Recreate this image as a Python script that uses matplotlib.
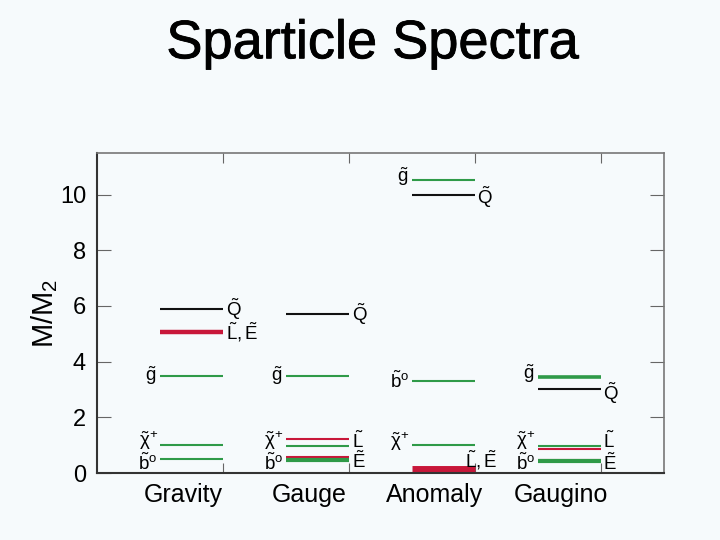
import matplotlib.pyplot as plt
import matplotlib.patheffects as pe

plt.rcParams['font.family'] = ['Liberation Sans', 'DejaVu Sans']
plt.rcParams['mathtext.fontset'] = 'custom'
plt.rcParams['mathtext.rm'] = 'Liberation Sans'
plt.rcParams['mathtext.it'] = 'Liberation Sans'

BG = '#f6fafc'
GREEN = '#2f9a48'
RED = '#c8173a'
BLACK = '#111111'

schemes = ['Gravity', 'Gauge', 'Anomaly', 'Gaugino']

# mass levels (M/M2) per scheme
gravity_names = ['Q', 'L,E', 'g', 'chi+', 'b0']
gravity_masses = [5.9, 5.05, 3.5, 1.0, 0.5]

gauge_names = ['Q', 'g', 'L', 'chi+', 'E', 'b0']
gauge_masses = [5.7, 3.5, 1.21, 0.98, 0.58, 0.46]

anomaly_names = ['g', 'Q', 'b0', 'chi+', 'L,E']
anomaly_masses = [10.53, 10.0, 3.3, 1.0, 0.15]

gaugino_names = ['g', 'Q', 'chi+', 'L', 'E', 'b0']
gaugino_masses = [3.45, 3.03, 0.98, 0.86, 0.47, 0.43]

spectra = [
    (gravity_names, gravity_masses),
    (gauge_names, gauge_masses),
    (anomaly_names, anomaly_masses),
    (gaugino_names, gaugino_masses),
]

labels = {
    'Q': r'$\tilde{\mathrm{Q}}$',
    'L,E': r'$\tilde{\mathrm{L}},\tilde{\mathrm{E}}$',
    'L': r'$\tilde{\mathrm{L}}$',
    'E': r'$\tilde{\mathrm{E}}$',
    'g': r'$\tilde{\mathrm{g}}$',
    'chi+': r'$\tilde{\chi}^{+}$',
    'b0': r'$\tilde{\mathrm{b}}^{\mathrm{o}}$',
}
colors = {'Q': BLACK, 'L,E': RED, 'L': RED, 'E': RED,
          'g': GREEN, 'chi+': GREEN, 'b0': GREEN}
left_side = {'g', 'chi+', 'b0'}

# thicker lines where levels overlap in the original
thick = {('Gravity', 'L,E'): 3.2, ('Gauge', 'b0'): 3.0, ('Anomaly', 'L,E'): 5,
         ('Gaugino', 'g'): 2.6, ('Gaugino', 'b0'): 3.0}
label_nudge = {('Anomaly', 'L,E'): (-0.1, 0.32), ('Gauge', 'E'): (0, -0.15),
               ('Gauge', 'L'): (0, -0.05), ('Gaugino', 'Q'): (0, -0.15),
               ('Gaugino', 'g'): (0, 0.12), ('Gaugino', 'E'): (0, -0.12),
               ('Gaugino', 'L'): (0, 0.28), ('Anomaly', 'Q'): (0, -0.1),
               ('Anomaly', 'g'): (0, 0.12),
               ('Gravity', 'chi+'): (0, 0.15), ('Gauge', 'chi+'): (0, 0.2),
               ('Anomaly', 'chi+'): (0, 0.12), ('Gaugino', 'chi+'): (0, 0.2),
               ('Gravity', 'b0'): (0, -0.15), ('Gauge', 'b0'): (0, -0.12),
               ('Gaugino', 'b0'): (0, -0.08)}

fig = plt.figure(figsize=(7.2, 5.4), dpi=100, facecolor=BG)
ax = fig.add_axes([0.135, 0.124, 0.787, 0.593], facecolor=BG)

for i, (scheme, (names, masses)) in enumerate(zip(schemes, spectra)):
    x0, x1 = i + 0.5, i + 1.0
    for name, m in zip(names, masses):
        lw = thick.get((scheme, name), 1.5)
        ax.plot([x0, x1], [m, m], color=colors[name], lw=lw,
                solid_capstyle='butt')
        dx, dy = label_nudge.get((scheme, name), (0, 0))
        if name in left_side:
            ax.text(x0 - 0.02 + dx, m + dy, labels[name], ha='right',
                    va='center', fontsize=13.5)
        else:
            ax.text(x1 + 0.02 + dx, m + dy, labels[name], ha='left',
                    va='center', fontsize=13.5)
    ax.text(i + 0.68, -0.35, scheme, ha='center', va='top', fontsize=18)

ax.set_xlim(0, 4.5)
ax.set_ylim(0, 11.5)
ax.set_xticks([1, 2, 3, 4])
ax.set_xticklabels([])
ax.set_yticks([0, 2, 4, 6, 8, 10])
ax.tick_params(axis='y', direction='in', length=10, width=0.8, color='#666666',
               labelsize=17, right=True, pad=8)
ax.tick_params(axis='x', direction='in', length=7, width=0.8, color='#666666',
               top=True)
for side in ['left', 'bottom']:
    ax.spines[side].set_linewidth(1.5)
    ax.spines[side].set_color('#333333')
for side in ['top', 'right']:
    ax.spines[side].set_linewidth(1.2)
    ax.spines[side].set_color('#777777')

ax.set_ylabel(r'M/M$_2$', fontsize=21, labelpad=0)
fig.text(0.517, 0.918, 'Sparticle Spectra', ha='center', va='center',
         fontsize=39,
         path_effects=[pe.withStroke(linewidth=0.6, foreground='black')])

fig.savefig('out.png', dpi=100, facecolor=BG)
